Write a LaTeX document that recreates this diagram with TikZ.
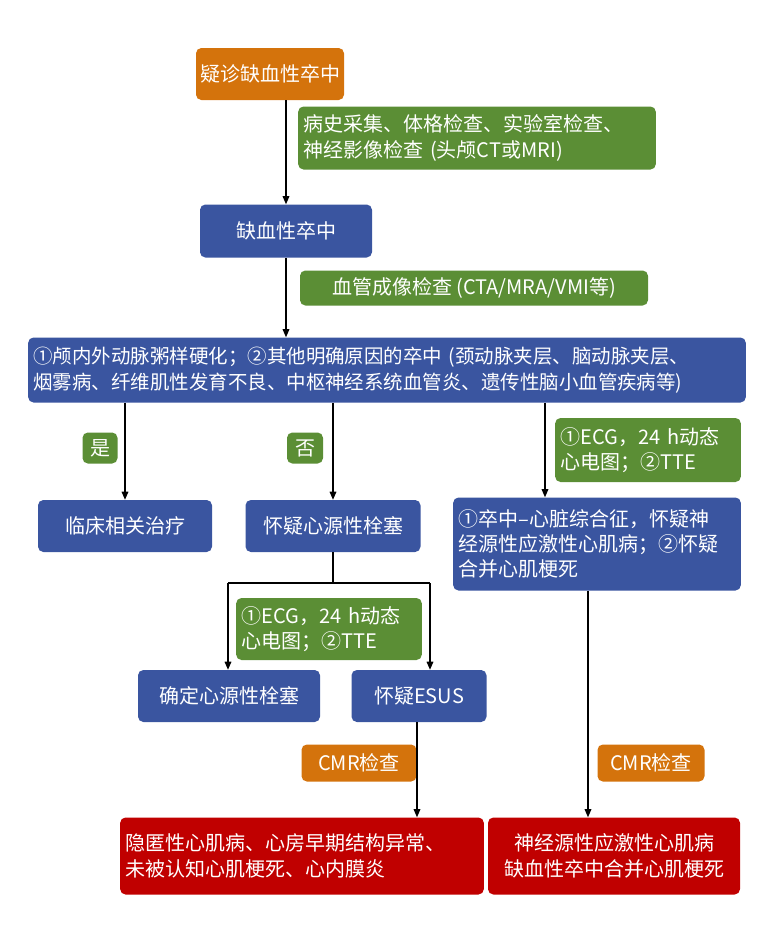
\documentclass[tikz,border=0pt]{standalone}
\usepackage{fontspec}
\setmainfont{Liberation Serif}
\newfontfamily\cjk{Noto Sans CJK SC}
\usetikzlibrary{arrows.meta}
\definecolor{cor}{HTML}{D4730C}
\definecolor{cgr}{HTML}{5B8E35}
\definecolor{cbl}{HTML}{3A55A0}
\definecolor{crd}{HTML}{C00000}
\begin{document}
\begin{tikzpicture}[x=0.75pt,y=-0.75pt,
 box/.style={rounded corners=4pt,text=white,inner sep=3pt,font=\cjk\fontsize{15}{19}\selectfont,align=center},
 lb/.style={align=left,inner xsep=4pt},
 ob/.style={box,fill=cor},gb/.style={box,fill=cgr},bb/.style={box,fill=cbl},rb/.style={box,fill=crd},
 ar/.style={-{Triangle[length=6pt,width=5pt]},line width=0.8pt},
 ln/.style={line width=0.8pt}]
\useasboundingbox (0,0) rectangle (780,943);
\node[ob,minimum width=140*0.75pt,minimum height=52*0.75pt] (n1) at (270,74) {疑诊缺血性卒中};
\node[gb,lb,text width=347*0.75pt,minimum height=63*0.75pt] (g1) at (477,138) {病史采集、体格检查、实验室检查、\\神经影像检查 (头颅CT或MRI)};
\node[bb,minimum width=172*0.75pt,minimum height=53*0.75pt] (n2) at (286,231) {缺血性卒中};
\node[gb,minimum width=348*0.75pt,minimum height=35*0.75pt] (g2) at (474,288) {血管成像检查 (CTA/MRA/VMI等)};
\node[bb,lb,text width=707*0.75pt,minimum height=65*0.75pt,font=\cjk\fontsize{14.6}{19}\selectfont] (n3) at (387,370) {①颅内外动脉粥样硬化；②其他明确原因的卒中 (颈动脉夹层、脑动脉夹层、\\烟雾病、纤维肌性发育不良、中枢神经系统血管炎、遗传性脑小血管疾病等)};
\node[gb,minimum width=35*0.75pt,minimum height=31*0.75pt] (y) at (100,448) {是};
\node[gb,minimum width=36*0.75pt,minimum height=31*0.75pt] (no) at (305,448) {否};
\node[gb,lb,text width=175*0.75pt,minimum height=64*0.75pt] (g3) at (648,450) {①ECG，24 h动态\\心电图；②TTE};
\node[bb,minimum width=174*0.75pt,minimum height=52*0.75pt] (n4) at (125,526) {临床相关治疗};
\node[bb,minimum width=175*0.75pt,minimum height=52*0.75pt] (n5) at (333,526) {怀疑心源性栓塞};
\node[bb,lb,text width=277*0.75pt,minimum height=93*0.75pt] (n6) at (597,544) {①卒中–心脏综合征，怀疑神\\经源性应激性心肌病；②怀疑\\合并心肌梗死};
\node[gb,lb,text width=175*0.75pt,minimum height=62*0.75pt] (g4) at (329,629) {①ECG，24 h动态\\心电图；②TTE};
\node[bb,minimum width=182*0.75pt,minimum height=52*0.75pt] (n7) at (229,696) {确定心源性栓塞};
\node[bb,minimum width=135*0.75pt,minimum height=52*0.75pt] (n8) at (419,696) {怀疑ESUS};
\node[ob,minimum width=115*0.75pt,minimum height=37*0.75pt] (c1) at (359,763) {CMR检查};
\node[ob,minimum width=107*0.75pt,minimum height=37*0.75pt] (c2) at (651,763) {CMR检查};
\node[rb,lb,text width=353*0.75pt,minimum height=77*0.75pt] (r1) at (302,856) {隐匿性心肌病、心房早期结构异常、\\未被认知心肌梗死、心内膜炎};
\node[rb,minimum width=252*0.75pt,minimum height=77*0.75pt,align=center] (r2) at (614,856) {神经源性应激性心肌病\\缺血性卒中合并心肌梗死};
\draw[ar] (n1.south -| n2) -- (n2.north);
\draw[ar] (n2.south) -- (n2.south |- n3.north);
\draw[ar] (n3.south -| n4) -- (n4.north);
\draw[ar] (n3.south -| n5) -- (n5.north);
\draw[ar] (n3.south -| 545,0) -- (n6.north -| 545,0);
\coordinate (sp) at (333,583);
\draw[ln] (n5.south) -- (sp);
\draw[ar] (228,583) -- (n7.north -| 228,0);
\draw[ar] (430,583) -- (n8.north -| 430,0);
\draw[ln] (228,583) -- (430,583);
\draw[ar] (n8.south -| 417,0) -- (r1.north -| 417,0);
\draw[ar] (n6.south -| 588,0) -- (r2.north -| 588,0);
\end{tikzpicture}
\end{document}
